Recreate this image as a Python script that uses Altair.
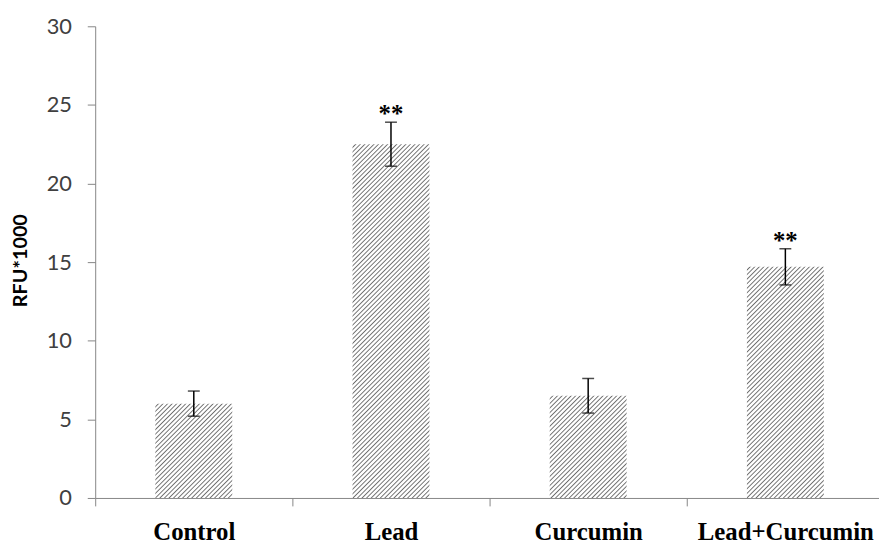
import altair as alt
import pandas as pd

categories = ["Control", "Lead", "Curcumin", "Lead+Curcumin"]
values = [6.0, 22.5, 6.5, 14.7]
errors = [0.8, 1.4, 1.1, 1.15]
stars = ["", "**", "", "**"]
y_ticks = [0, 5, 10, 15, 20, 25, 30]

PLOT_W = 791
RANGE_W = 796
PLOT_H = 476
YMAX = 30
BAR_FRAC = 0.39
PERIOD = 4.6

df = pd.DataFrame({"cat": categories, "value": values, "err": errors, "star": stars})
df["lo"] = df["value"] - df["err"]
df["hi"] = df["value"] + df["err"]


def hatch(value):
    w = BAR_FRAC * RANGE_W / len(categories)
    h = value / YMAX * PLOT_H
    k = (w + h) / (w * w + h * h)
    n = (w + h) / PERIOD
    stops = []
    for i in range(int(n) + 1):
        for frac, col in [(0.0, "#ffffff"), (0.42, "#ffffff"), (0.71, "#6e6e6e"), (1.0, "#ffffff")]:
            off = (i + frac) / n
            if off <= 1:
                stops.append(alt.GradientStop(offset=round(off, 5), color=col))
    return alt.LinearGradient(gradient="linear", stops=stops, x1=0, y1=0, x2=k * w, y2=k * h)


x_enc = alt.X(
    "cat:N",
    sort=categories,
    scale=alt.Scale(domain=categories, range=[0, RANGE_W], paddingInner=0, paddingOuter=0),
    axis=alt.Axis(
        title=None, labelAngle=0, labelFont="Liberation Serif", labelFontWeight="bold",
        labelFontSize=25, labelColor="#000000", labelBaseline="alphabetic", labelPadding=34,
        labelLimit=400, labelAlign="center", tickSize=8, tickColor="#868686",
        domainColor="#868686", tickBand="extent", grid=False,
    ),
)
y_axis = alt.Axis(
    values=y_ticks, grid=False, tickSize=8, tickColor="#868686", domainColor="#868686",
    labelFont="Lato", labelFontSize=22, labelColor="#404040", labelPadding=16,
    title="RFU*1000", titleFont="Lato", titleFontSize=20, titleFontWeight="bold",
    titleColor="#000000", titleX=-75, titleY=236, titleAngle=270,
    titleAlign="center", titleBaseline="middle",
)
y_scale = alt.Scale(domain=[0, YMAX], nice=False)

base = alt.Chart(df).encode(x=x_enc)

layers = []
for c, v in zip(categories, values):
    layers.append(
        base.transform_filter(alt.datum.cat == c)
        .mark_bar(fill=hatch(v), width=alt.RelativeBandSize(BAR_FRAC))
        .encode(y=alt.Y("value:Q", scale=y_scale, axis=y_axis))
    )

rule = base.mark_rule(color="#000000", strokeWidth=1.5).encode(
    y=alt.Y("lo:Q", scale=y_scale), y2="hi:Q"
)
cap_lo = base.mark_tick(color="#000000", size=12, thickness=1.5).encode(y=alt.Y("lo:Q", scale=y_scale))
cap_hi = base.mark_tick(color="#000000", size=12, thickness=1.5).encode(y=alt.Y("hi:Q", scale=y_scale))
text = base.mark_text(
    font="Liberation Serif", fontWeight="bold", fontSize=25, baseline="alphabetic",
    align="center", color="#000000", dy=0
).encode(y=alt.Y("hi:Q", scale=y_scale), text="star:N")

chart = alt.layer(*layers, rule, cap_lo, cap_hi, text).properties(
    width=PLOT_W,
    height=PLOT_H,
    autosize=alt.AutoSizeParams(type="none"),
    padding={"left": 88, "top": 16, "right": 0, "bottom": 44},
).configure_view(stroke=None)

chart.save("out.html", embed_options={"renderer": "svg", "actions": False})
